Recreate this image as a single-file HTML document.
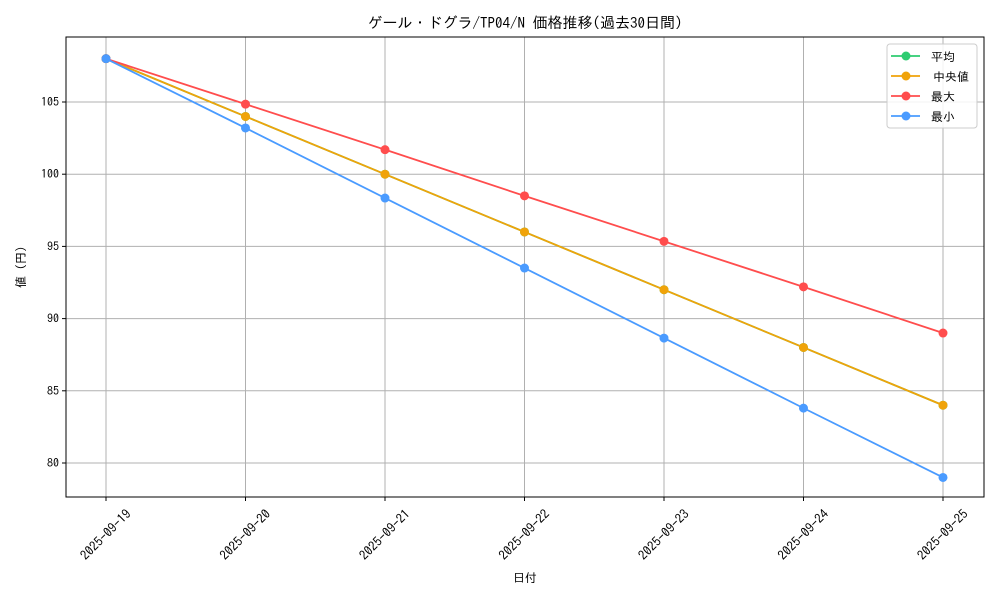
<!DOCTYPE html>
<html><head><meta charset="utf-8"><style>
body{margin:0;background:#fff;}
svg text{font-family:"IPAGothic","Liberation Sans","Noto Sans CJK JP",sans-serif;fill:#000;}
</style></head><body>
<svg id="c" width="1000" height="600" xmlns="http://www.w3.org/2000/svg">
<rect x="0" y="0" width="1000" height="600" fill="#fff"/>
<text x="525" y="28" font-size="15" text-anchor="middle">ゲール・ドグラ/TP04/N 価格推移(過去30日間)</text>
<g id="grid"></g>
<g id="ax"></g>
<g id="series"></g>
<rect x="66" y="37" width="918" height="460" fill="none" stroke="#000" stroke-width="1"/>
<text x="525" y="582" font-size="12" text-anchor="middle">日付</text>
<text x="25" y="267" font-size="12" text-anchor="middle" transform="rotate(-90 25 267)">値 (円)</text>
<g id="legend"></g>
</svg>
<script>
const categories=["2025-09-19","2025-09-20","2025-09-21","2025-09-22","2025-09-23","2025-09-24","2025-09-25"];
const meanVals=[108,104,100,96,92,88,84];
const medianVals=[108,104,100,96,92,88,84];
const maxVals=[108,104.85,101.7,98.5,95.35,92.2,89];
const minVals=[108,103.2,98.35,93.5,88.65,83.8,79];
const yTicks=[80,85,90,95,100,105];
const seriesNames=["平均","中央値","最大","最小"];
const NS="http://www.w3.org/2000/svg";
const x=i=>106+i*(943-106)/(categories.length-1);
const y=v=>463-(v-80)*(463-102)/25;
function mk(t,a,p){const e=document.createElementNS(NS,t);for(const k in a)e.setAttribute(k,a[k]);p.appendChild(e);return e;}
const grid=document.getElementById('grid'),ax=document.getElementById('ax'),sg=document.getElementById('series'),lg=document.getElementById('legend');
categories.forEach((c,i)=>{
 const l=mk('line',{x1:x(i),x2:x(i),y1:37,y2:497,stroke:'#b0b0b0','stroke-width':1},grid);
 
 
 mk('line',{x1:x(i),x2:x(i),y1:497,y2:501,stroke:'#000'},ax);
 const t=mk('text',{x:x(i),y:539,'font-size':13,'text-anchor':'middle',transform:`rotate(-45 ${x(i)} 535)`},ax);
 t.textContent=c;
 
 
});
yTicks.forEach(v=>{
 const l=mk('line',{x1:66,x2:984,y1:y(v),y2:y(v),stroke:'#b0b0b0','stroke-width':1},grid);
 
 
 mk('line',{x1:62,x2:66,y1:y(v),y2:y(v),stroke:'#000'},ax);
 const t=mk('text',{x:59,y:y(v)+4,'font-size':12,'text-anchor':'end'},ax);
 t.textContent=v;
 
 
});
const all=[[meanVals,'#2ecc71','mean'],[medianVals,'#f0a30a','median'],[maxVals,'#ff4d4d','max'],[minVals,'#4a9bff','min']];
all.forEach(([vals,col,n])=>{
 const g=mk('g',{},sg);
 
 
 const p=mk('polyline',{points:vals.map((v,i)=>x(i)+','+y(v)).join(' '),fill:'none',stroke:col,'stroke-width':1.8},g);
 
 
 vals.forEach((v,i)=>{
  const c=mk('circle',{cx:x(i),cy:y(v),r:4.5,fill:col},g);
  
  
 });
});
const lb=mk('rect',{x:887,y:44,width:90,height:84,rx:3,fill:'#fff','fill-opacity':0.85,stroke:'#ccc'},lg);


all.forEach(([v,col,n],i)=>{
 const yy=56+i*20;
 const g=mk('g',{},lg);
 
 
 mk('line',{x1:891,x2:920,y1:yy,y2:yy,stroke:col,'stroke-width':1.8},g);
 mk('circle',{cx:906,cy:yy,r:4.5,fill:col},g);
 const t=mk('text',{x:i==1?933:931,y:yy+5,'font-size':12},g);
 t.textContent=seriesNames[i];
});
</script>
</body></html>
